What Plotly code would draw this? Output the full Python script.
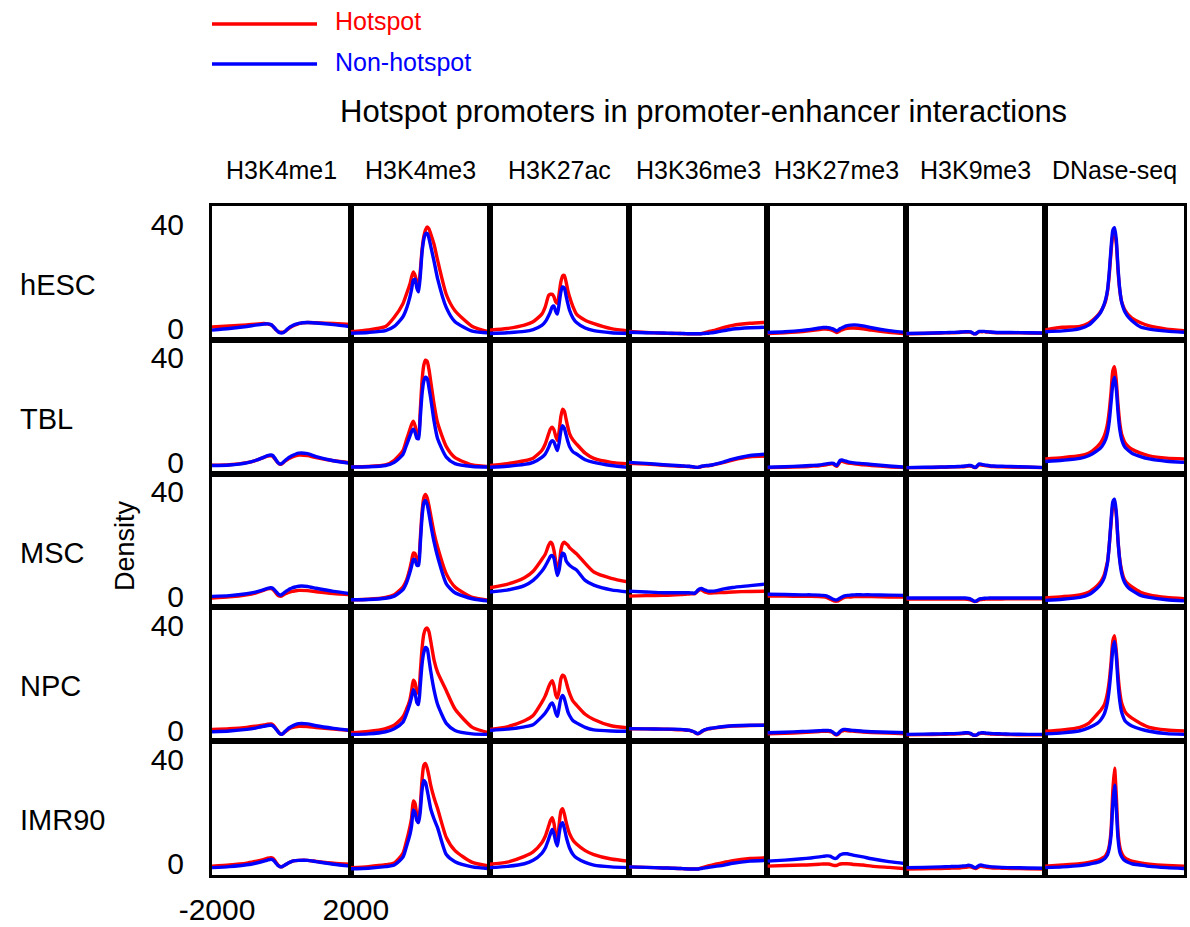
import plotly.graph_objects as go
from plotly.subplots import make_subplots

# ---------------- data ----------------
POSITION_BP = [-2000, -1500, -1000, -750, -500, -400, -300, -250, -200, -150, -100, -50, 0,
               50, 100, 150, 200, 250, 300, 400, 500, 750, 1000, 1500, 2000]

CELL_TYPES = ["hESC", "TBL", "MSC", "NPC", "IMR90"]
MARKS = ["H3K4me1", "H3K4me3", "H3K27ac", "H3K36me3", "H3K27me3", "H3K9me3", "DNase-seq"]
MARK_KEYS = ["K4me1", "K4me3", "K27ac", "K36me3", "K27me3", "K9me3", "DNase"]
SERIES_NAMES = ["Hotspot", "Non-hotspot"]
X_TICKS = [-2000, 2000]
Y_TICKS = [0, 40]
TITLE = "Hotspot promoters in promoter-enhancer interactions"
Y_LABEL = "Density"

# hESC
hESC_K4me1_hot = [2.6, 3.0, 3.4, 3.7, 3.9, 3.8, 3.4, 2.9, 2.2, 1.4, 0.9, 0.6, 0.6, 0.6, 0.9, 1.4, 1.9, 2.4, 2.8, 3.4, 3.9, 4.3, 4.2, 3.9, 3.6]
hESC_K4me1_non = [1.4, 2.0, 2.8, 3.3, 3.7, 3.8, 3.5, 3.0, 2.3, 1.5, 0.9, 0.4, 0.3, 0.4, 0.9, 1.5, 2.1, 2.6, 3.0, 3.6, 4.0, 4.3, 4.1, 3.5, 2.7]
hESC_K4me3_hot = [0.8, 1.5, 2.8, 6.3, 11.5, 15.1, 18.9, 21.7, 23.6, 22.3, 19.8, 18.5, 24.0, 32.0, 37.0, 39.7, 40.8, 40.1, 38.2, 34.0, 28.0, 15.0, 8.8, 2.8, 0.7]
hESC_K4me3_non = [0.2, 0.5, 1.2, 2.8, 6.5, 9.5, 14.0, 17.0, 20.5, 20.8, 17.5, 16.0, 22.0, 31.0, 36.0, 38.2, 38.3, 36.5, 33.5, 27.5, 21.0, 10.0, 4.6, 1.0, 0.3]
hESC_K27ac_hot = [1.4, 2.0, 3.3, 4.6, 7.5, 10.3, 14.7, 15.1, 15.1, 14.1, 12.2, 11.6, 15.4, 19.8, 22.1, 22.3, 19.8, 16.6, 14.1, 10.3, 7.5, 5.2, 3.9, 2.0, 1.1]
hESC_K27ac_non = [0.1, 0.4, 0.9, 1.6, 3.2, 4.6, 7.0, 8.5, 10.3, 10.6, 8.6, 7.5, 11.5, 16.0, 17.9, 17.5, 14.5, 11.5, 9.0, 6.0, 4.3, 2.2, 1.2, 0.4, 0.1]
hESC_K36me3_hot = [0.9, 0.5, 0.2, 0.1, 0.1, 0.0, 0.0, 0.0, 0.0, 0.0, 0.0, 0.0, 0.0, 0.0, 0.1, 0.2, 0.4, 0.6, 0.8, 1.1, 1.4, 2.4, 3.2, 4.0, 4.4]
hESC_K36me3_non = [0.6, 0.4, 0.3, 0.2, 0.1, 0.1, 0.0, 0.0, 0.0, 0.0, 0.0, 0.0, 0.0, 0.0, 0.0, 0.1, 0.1, 0.2, 0.2, 0.4, 0.6, 1.2, 1.8, 2.3, 2.5]
hESC_K27me3_hot = [0.1, 0.4, 0.8, 1.2, 1.6, 1.8, 1.8, 1.7, 1.6, 1.4, 1.2, 0.8, 0.5, 0.8, 1.2, 1.5, 1.8, 2.0, 2.1, 2.2, 2.2, 1.9, 1.4, 0.6, 0.0]
hESC_K27me3_non = [0.5, 0.8, 1.3, 1.7, 2.2, 2.4, 2.4, 2.3, 2.2, 2.0, 1.8, 1.4, 1.1, 1.5, 2.0, 2.3, 2.6, 2.9, 3.1, 3.3, 3.4, 3.0, 2.3, 1.2, 0.5]
hESC_K9me3_hot = [0.0, 0.1, 0.3, 0.4, 0.5, 0.6, 0.7, 0.7, 0.7, 0.6, 0.3, 0.0, 0.0, 0.4, 0.8, 0.8, 0.8, 0.8, 0.7, 0.6, 0.5, 0.4, 0.4, 0.3, 0.2]
hESC_K9me3_non = [0.1, 0.2, 0.4, 0.5, 0.6, 0.7, 0.8, 0.8, 0.8, 0.7, 0.4, 0.0, 0.0, 0.5, 0.9, 0.9, 0.9, 0.9, 0.8, 0.7, 0.6, 0.5, 0.5, 0.4, 0.3]
hESC_DNase_hot = [1.5, 2.5, 2.8, 4.0, 6.8, 8.5, 11.0, 13.0, 16.5, 23.0, 31.5, 37.5, 38.5, 34.5, 24.0, 16.5, 12.5, 10.5, 9.0, 7.2, 6.0, 4.2, 3.0, 1.8, 1.2]
hESC_DNase_non = [0.8, 1.1, 2.0, 3.3, 6.5, 8.2, 11.2, 13.5, 17.0, 24.0, 33.0, 39.5, 40.5, 36.0, 25.0, 17.0, 12.3, 10.0, 8.3, 6.3, 5.0, 2.6, 1.8, 1.0, 0.6]

# TBL
TBL_K4me1_hot = [0.9, 1.1, 1.9, 2.7, 3.9, 4.4, 4.5, 4.3, 3.5, 2.6, 1.8, 1.3, 1.3, 1.8, 2.4, 2.9, 3.3, 3.7, 4.0, 4.5, 4.8, 4.6, 3.8, 2.6, 1.8]
TBL_K4me1_non = [0.8, 1.0, 1.8, 2.7, 4.0, 4.6, 4.8, 4.6, 3.8, 2.8, 1.9, 1.4, 1.5, 2.0, 2.6, 3.2, 3.7, 4.1, 4.5, 5.1, 5.5, 5.3, 4.2, 2.6, 1.6]
TBL_K4me3_hot = [0.3, 0.4, 1.0, 2.8, 6.5, 10.5, 14.5, 16.5, 17.7, 16.0, 13.0, 12.5, 22.0, 33.0, 39.0, 41.0, 40.5, 37.5, 33.0, 24.0, 17.0, 8.0, 3.8, 1.0, 0.3]
TBL_K4me3_non = [0.2, 0.3, 0.8, 2.0, 5.0, 8.5, 12.0, 13.8, 14.7, 13.5, 11.2, 11.0, 19.0, 28.0, 33.0, 34.5, 34.0, 30.5, 26.5, 17.5, 11.0, 4.0, 1.5, 0.4, 0.2]
TBL_K27ac_hot = [0.8, 1.5, 2.6, 3.6, 6.5, 9.0, 13.0, 14.8, 15.4, 14.5, 12.0, 10.3, 14.0, 19.5, 22.3, 21.5, 18.5, 15.5, 13.0, 10.5, 9.0, 5.5, 3.5, 2.0, 1.4]
TBL_K27ac_non = [0.1, 0.5, 1.2, 2.0, 3.9, 5.2, 7.8, 9.5, 10.3, 9.8, 8.0, 6.5, 9.5, 14.0, 16.0, 15.0, 12.5, 10.0, 8.0, 6.0, 5.2, 3.0, 2.0, 0.8, 0.1]
TBL_K36me3_hot = [1.6, 1.3, 0.9, 0.7, 0.5, 0.5, 0.4, 0.4, 0.3, 0.2, 0.1, 0.1, 0.1, 0.2, 0.4, 0.5, 0.6, 0.7, 0.7, 0.9, 1.2, 2.0, 2.9, 4.1, 4.4]
TBL_K36me3_non = [2.0, 1.6, 1.1, 0.9, 0.7, 0.6, 0.5, 0.5, 0.4, 0.3, 0.2, 0.1, 0.1, 0.3, 0.5, 0.6, 0.7, 0.8, 0.8, 1.0, 1.3, 2.2, 3.2, 4.6, 5.2]
TBL_K27me3_hot = [0.0, 0.1, 0.3, 0.5, 0.7, 0.9, 1.1, 1.2, 1.3, 1.4, 1.3, 0.8, 0.5, 1.4, 2.3, 2.4, 2.2, 2.0, 1.8, 1.6, 1.4, 1.1, 0.8, 0.3, 0.0]
TBL_K27me3_non = [0.1, 0.3, 0.6, 0.8, 1.0, 1.2, 1.4, 1.5, 1.6, 1.7, 1.6, 1.1, 0.8, 1.8, 2.8, 2.9, 2.7, 2.5, 2.3, 2.0, 1.8, 1.5, 1.2, 0.6, 0.1]
TBL_K9me3_hot = [0.0, 0.0, 0.1, 0.2, 0.3, 0.3, 0.4, 0.5, 0.6, 0.6, 0.4, 0.1, 0.0, 0.6, 1.1, 1.0, 0.9, 0.8, 0.7, 0.5, 0.4, 0.3, 0.2, 0.1, 0.0]
TBL_K9me3_non = [0.0, 0.1, 0.2, 0.3, 0.4, 0.5, 0.6, 0.7, 0.8, 0.8, 0.6, 0.2, 0.1, 0.8, 1.4, 1.3, 1.1, 1.0, 0.9, 0.7, 0.6, 0.5, 0.4, 0.2, 0.0]
TBL_DNase_hot = [3.3, 3.8, 4.5, 5.5, 8.0, 9.5, 12.0, 14.0, 17.0, 22.0, 29.0, 37.0, 38.5, 33.0, 24.0, 17.0, 13.0, 11.0, 9.5, 8.0, 7.0, 5.5, 4.5, 3.6, 3.3]
TBL_DNase_non = [2.3, 2.8, 3.5, 4.5, 6.5, 7.5, 9.5, 11.0, 13.5, 18.0, 25.0, 32.0, 34.5, 30.0, 21.0, 14.5, 11.0, 9.0, 7.8, 6.5, 5.5, 4.2, 3.3, 2.4, 2.0]

# MSC
MSC_K4me1_hot = [1.3, 1.7, 2.5, 3.2, 4.3, 4.8, 4.9, 4.6, 3.9, 3.0, 2.3, 2.0, 2.0, 2.4, 2.8, 3.1, 3.4, 3.6, 3.8, 4.0, 4.2, 4.1, 3.7, 3.0, 2.5]
MSC_K4me1_non = [1.9, 2.2, 2.9, 3.5, 4.5, 5.0, 5.2, 5.0, 4.4, 3.6, 2.9, 2.5, 2.5, 3.0, 3.5, 4.0, 4.4, 4.8, 5.1, 5.5, 5.8, 5.7, 5.0, 3.8, 2.9]
MSC_K4me3_hot = [0.6, 0.8, 1.5, 2.5, 5.5, 8.0, 12.5, 15.5, 18.5, 18.2, 16.0, 15.6, 24.0, 34.0, 39.5, 40.8, 39.5, 36.5, 33.0, 26.0, 20.7, 10.5, 5.5, 1.5, 0.4]
MSC_K4me3_non = [0.6, 0.7, 1.2, 2.0, 4.5, 7.0, 11.0, 13.5, 16.0, 15.8, 13.8, 13.7, 22.0, 32.0, 37.5, 38.5, 37.0, 33.5, 29.5, 22.5, 17.0, 6.7, 3.3, 1.0, 0.1]
MSC_K27ac_hot = [5.2, 6.5, 9.0, 11.5, 16.0, 18.0, 21.5, 22.6, 22.0, 19.5, 15.5, 12.4, 14.0, 19.5, 22.0, 22.6, 22.0, 21.5, 20.5, 19.3, 18.2, 14.5, 11.2, 8.8, 7.4]
MSC_K27ac_non = [3.6, 4.3, 6.0, 8.0, 11.5, 13.5, 16.0, 17.2, 17.5, 16.5, 13.0, 9.9, 12.0, 16.5, 18.4, 18.0, 15.5, 14.5, 13.8, 12.8, 12.0, 8.0, 6.2, 4.4, 3.6]
MSC_K36me3_hot = [2.0, 2.2, 2.3, 2.4, 2.6, 2.7, 2.8, 2.8, 2.9, 2.9, 2.9, 3.4, 4.0, 4.4, 4.4, 4.0, 3.6, 3.4, 3.2, 3.2, 3.3, 3.4, 3.6, 3.8, 3.9]
MSC_K36me3_non = [3.9, 3.6, 3.3, 3.3, 3.3, 3.3, 3.3, 3.3, 3.2, 3.2, 3.1, 3.6, 4.3, 4.8, 4.9, 4.6, 4.3, 4.1, 3.9, 3.9, 4.0, 4.8, 5.3, 6.0, 6.7]
MSC_K27me3_hot = [2.0, 2.0, 1.9, 1.9, 1.8, 1.7, 1.5, 1.2, 0.9, 0.6, 0.3, 0.1, 0.1, 0.3, 0.7, 1.1, 1.4, 1.6, 1.7, 1.7, 1.8, 1.8, 1.8, 1.7, 1.7]
MSC_K27me3_non = [2.7, 2.6, 2.5, 2.5, 2.4, 2.3, 2.1, 1.8, 1.5, 1.1, 0.8, 0.6, 0.6, 0.9, 1.3, 1.7, 2.0, 2.2, 2.3, 2.4, 2.5, 2.5, 2.5, 2.4, 2.3]
MSC_K9me3_hot = [0.9, 0.9, 0.9, 0.9, 0.9, 0.9, 0.9, 0.8, 0.7, 0.6, 0.3, 0.0, 0.0, 0.2, 0.6, 0.7, 0.8, 0.8, 0.9, 0.9, 0.9, 0.9, 1.0, 1.0, 1.0]
MSC_K9me3_non = [1.3, 1.3, 1.3, 1.3, 1.3, 1.3, 1.3, 1.2, 1.1, 0.9, 0.5, 0.1, 0.0, 0.4, 0.9, 1.0, 1.1, 1.2, 1.2, 1.3, 1.3, 1.3, 1.3, 1.3, 1.3]
MSC_DNase_hot = [1.3, 1.8, 2.5, 3.5, 6.0, 7.5, 10.0, 12.5, 15.5, 22.0, 30.0, 36.5, 37.5, 33.0, 23.0, 16.0, 12.0, 9.5, 8.0, 6.5, 5.5, 3.5, 2.5, 1.5, 1.0]
MSC_DNase_non = [0.4, 0.8, 1.5, 2.5, 5.0, 6.5, 9.0, 11.5, 15.0, 22.0, 31.0, 38.0, 39.0, 34.0, 23.0, 15.5, 11.0, 8.5, 7.0, 5.2, 4.2, 2.3, 1.5, 0.6, 0.2]

# NPC
NPC_K4me1_hot = [2.2, 2.5, 3.0, 3.4, 3.9, 4.2, 4.3, 4.0, 3.3, 2.4, 1.5, 0.7, 0.3, 0.6, 1.2, 1.7, 2.2, 2.6, 2.9, 3.2, 3.4, 3.3, 2.9, 2.3, 1.8]
NPC_K4me1_non = [1.3, 1.6, 2.2, 2.7, 3.4, 3.7, 3.8, 3.6, 3.0, 2.2, 1.3, 0.6, 0.3, 0.7, 1.4, 2.0, 2.6, 3.0, 3.4, 4.0, 4.4, 4.3, 3.6, 2.6, 1.8]
NPC_K4me3_hot = [0.9, 1.4, 2.5, 3.8, 7.0, 9.8, 13.5, 17.0, 21.0, 20.0, 16.5, 16.1, 24.0, 33.0, 38.5, 40.5, 40.9, 39.5, 36.0, 28.5, 24.0, 17.0, 10.0, 3.0, 0.9]
NPC_K4me3_non = [0.3, 0.5, 1.3, 2.5, 5.0, 8.0, 12.0, 14.5, 17.4, 16.0, 12.5, 11.7, 19.0, 27.0, 31.5, 33.5, 33.0, 29.0, 24.5, 17.0, 11.7, 4.5, 1.8, 0.5, 0.3]
NPC_K27ac_hot = [2.2, 3.2, 5.5, 7.5, 12.5, 15.0, 18.5, 20.0, 20.8, 19.0, 15.5, 14.2, 17.0, 21.5, 22.9, 22.5, 20.5, 18.0, 16.0, 13.0, 11.5, 8.0, 6.0, 3.6, 2.8]
NPC_K27ac_non = [1.8, 2.3, 3.2, 4.0, 7.0, 8.5, 10.5, 11.8, 12.3, 11.0, 8.5, 7.2, 10.5, 14.0, 15.2, 14.0, 11.5, 9.0, 7.5, 5.5, 4.7, 3.0, 2.0, 1.6, 1.5]
NPC_K36me3_hot = [2.4, 2.4, 2.3, 2.2, 2.1, 2.0, 1.9, 1.8, 1.6, 1.4, 1.1, 0.7, 0.5, 0.8, 1.3, 1.7, 2.0, 2.2, 2.4, 2.6, 2.8, 3.2, 3.5, 3.7, 3.8]
NPC_K36me3_non = [2.5, 2.4, 2.3, 2.3, 2.2, 2.1, 2.0, 1.9, 1.7, 1.5, 1.2, 0.8, 0.6, 0.9, 1.4, 1.8, 2.1, 2.3, 2.5, 2.7, 2.9, 3.3, 3.6, 3.8, 3.8]
NPC_K27me3_hot = [0.5, 0.7, 1.0, 1.2, 1.4, 1.5, 1.5, 1.5, 1.4, 1.2, 0.8, 0.3, 0.1, 0.5, 1.2, 1.6, 1.8, 1.8, 1.7, 1.6, 1.5, 1.2, 1.0, 0.8, 0.5]
NPC_K27me3_non = [0.9, 1.1, 1.4, 1.5, 1.7, 1.8, 1.8, 1.8, 1.7, 1.4, 1.0, 0.5, 0.3, 0.8, 1.5, 2.0, 2.2, 2.2, 2.1, 1.9, 1.8, 1.5, 1.3, 1.1, 0.9]
NPC_K9me3_hot = [0.1, 0.2, 0.3, 0.4, 0.5, 0.6, 0.7, 0.7, 0.7, 0.5, 0.2, 0.0, 0.0, 0.2, 0.6, 0.7, 0.7, 0.7, 0.6, 0.5, 0.4, 0.3, 0.2, 0.1, 0.1]
NPC_K9me3_non = [0.3, 0.4, 0.5, 0.6, 0.7, 0.8, 0.9, 0.9, 0.9, 0.7, 0.3, 0.0, 0.0, 0.3, 0.8, 0.9, 0.9, 0.9, 0.8, 0.7, 0.6, 0.5, 0.4, 0.3, 0.3]
NPC_DNase_hot = [1.5, 2.0, 3.0, 4.5, 8.0, 9.5, 11.5, 13.5, 16.5, 21.0, 28.0, 36.0, 38.0, 32.0, 23.0, 16.5, 12.5, 10.5, 9.0, 7.5, 6.5, 4.5, 3.0, 2.0, 1.6]
NPC_DNase_non = [0.5, 0.9, 1.7, 2.8, 4.5, 5.8, 8.0, 10.0, 13.0, 18.0, 25.0, 33.0, 35.8, 30.0, 20.0, 13.0, 9.0, 7.0, 5.5, 4.3, 3.5, 2.3, 1.5, 0.6, 0.3]

# IMR90
IMR90_K4me1_hot = [1.1, 1.5, 2.2, 2.9, 3.7, 4.1, 4.3, 4.1, 3.4, 2.4, 1.5, 1.0, 0.8, 1.1, 1.5, 1.9, 2.3, 2.6, 2.9, 3.2, 3.3, 3.3, 2.9, 2.2, 1.8]
IMR90_K4me1_non = [0.5, 0.9, 1.6, 2.2, 3.0, 3.4, 3.7, 3.5, 2.9, 2.1, 1.3, 0.9, 0.8, 1.1, 1.5, 1.9, 2.3, 2.6, 2.9, 3.2, 3.3, 3.3, 2.8, 1.8, 1.1]
IMR90_K4me3_hot = [0.5, 0.9, 1.6, 2.3, 6.0, 10.5, 16.0, 19.5, 26.0, 25.0, 20.5, 18.3, 24.0, 34.0, 39.5, 40.3, 38.5, 35.5, 32.0, 27.0, 23.0, 12.0, 7.0, 2.5, 1.1]
IMR90_K4me3_non = [0.1, 0.3, 0.9, 1.5, 4.5, 8.5, 13.0, 16.5, 22.5, 21.5, 18.5, 17.7, 22.0, 30.0, 33.8, 33.0, 30.0, 26.5, 23.0, 19.0, 15.7, 5.5, 2.8, 0.8, 0.1]
IMR90_K27ac_hot = [1.8, 2.6, 4.8, 6.5, 10.0, 12.5, 16.5, 18.5, 19.6, 17.5, 13.0, 10.7, 17.0, 22.0, 23.0, 21.0, 18.0, 15.5, 13.5, 11.0, 9.5, 7.0, 5.5, 3.8, 3.0]
IMR90_K27ac_non = [0.5, 1.0, 2.0, 3.3, 6.0, 8.0, 11.5, 13.5, 15.1, 13.5, 10.5, 8.8, 13.5, 17.0, 17.7, 15.5, 12.5, 10.0, 8.0, 5.5, 4.2, 2.5, 1.5, 0.8, 0.5]
IMR90_K36me3_hot = [0.8, 0.6, 0.4, 0.3, 0.2, 0.1, 0.1, 0.0, 0.0, 0.0, 0.0, 0.0, 0.0, 0.2, 0.4, 0.6, 0.8, 1.0, 1.2, 1.5, 1.8, 2.5, 3.2, 4.0, 4.3]
IMR90_K36me3_non = [0.8, 0.6, 0.4, 0.3, 0.2, 0.1, 0.0, 0.0, 0.0, 0.0, 0.0, 0.0, 0.0, 0.1, 0.2, 0.3, 0.4, 0.5, 0.6, 0.8, 1.0, 1.5, 2.2, 3.0, 3.3]
IMR90_K27me3_hot = [1.1, 1.3, 1.5, 1.6, 1.8, 1.9, 1.9, 1.9, 1.8, 1.6, 1.4, 1.3, 1.4, 1.7, 1.9, 2.0, 2.0, 2.0, 2.0, 1.9, 1.7, 1.5, 1.1, 0.6, 0.1]
IMR90_K27me3_non = [3.0, 3.4, 3.9, 4.2, 4.6, 4.8, 5.0, 5.0, 4.9, 4.6, 4.2, 4.0, 4.2, 4.9, 5.4, 5.7, 5.8, 5.8, 5.8, 5.5, 5.2, 4.6, 3.9, 2.8, 2.0]
IMR90_K9me3_hot = [0.0, 0.1, 0.2, 0.3, 0.4, 0.5, 0.6, 0.7, 0.8, 0.8, 0.6, 0.3, 0.2, 0.5, 0.9, 1.0, 0.9, 0.8, 0.7, 0.5, 0.4, 0.3, 0.2, 0.1, 0.0]
IMR90_K9me3_non = [0.5, 0.6, 0.8, 0.9, 1.0, 1.1, 1.2, 1.3, 1.4, 1.3, 1.0, 0.6, 0.5, 0.9, 1.4, 1.5, 1.4, 1.2, 1.1, 0.9, 0.8, 0.6, 0.5, 0.4, 0.3]
IMR90_DNase_hot = [1.1, 1.5, 2.0, 2.5, 3.3, 3.8, 4.5, 5.3, 6.5, 9.0, 15.0, 30.0, 38.5, 28.0, 14.0, 8.5, 6.2, 5.0, 4.3, 3.5, 3.0, 2.3, 1.8, 1.3, 1.1]
IMR90_DNase_non = [0.5, 0.8, 1.3, 1.8, 2.5, 3.0, 3.8, 4.5, 5.5, 8.0, 13.0, 25.0, 32.0, 23.0, 11.5, 6.5, 4.8, 3.8, 3.2, 2.5, 2.0, 1.5, 1.0, 0.5, 0.2]

# ---------------- layout constants ----------------
W, H = 1190, 927
PL, PR, PT, PB = 212, 1184, 206, 875   # plot area in pixels
FONT = "Liberation Sans, Arial, Helvetica, sans-serif"
RED = "#ff0000"
BLUE = "#0000ff"


def px_x(px):
    return (px - PL) / (PR - PL)


def px_y(py):
    return (PB - py) / (PB - PT)


nrows, ncols = len(CELL_TYPES), len(MARKS)
fig = make_subplots(rows=nrows, cols=ncols, horizontal_spacing=0, vertical_spacing=0)

for r, cell in enumerate(CELL_TYPES):
    for c, key in enumerate(MARK_KEYS):
        hot = globals()[f"{cell}_{key}_hot"]
        non = globals()[f"{cell}_{key}_non"]
        fig.add_trace(go.Scatter(x=POSITION_BP, y=hot, mode="lines", name=SERIES_NAMES[0],
                                 line=dict(color=RED, width=3.4, shape="spline", smoothing=0.6),
                                 showlegend=False, hoverinfo="skip"), row=r + 1, col=c + 1)
        fig.add_trace(go.Scatter(x=POSITION_BP, y=non, mode="lines", name=SERIES_NAMES[1],
                                 line=dict(color=BLUE, width=3.4, shape="spline", smoothing=0.6),
                                 showlegend=False, hoverinfo="skip"), row=r + 1, col=c + 1)

fig.update_xaxes(range=[-2000, 2000], showgrid=False, zeroline=False, showline=True,
                 linecolor="black", linewidth=3, mirror=True, ticks="", showticklabels=False,
                 automargin=False, fixedrange=True)
fig.update_yaxes(range=[-2.3, 48.8], showgrid=False, zeroline=False, showline=True,
                 linecolor="black", linewidth=3, mirror=True, ticks="", showticklabels=False,
                 automargin=False, fixedrange=True)

fig.update_xaxes(row=nrows, col=1, showticklabels=True, tickmode="array", tickvals=X_TICKS,
                 ticktext=[str(v) for v in X_TICKS], tickfont=dict(family=FONT, size=30, color="black"),
                 ticklabelstandoff=6, ticklabelshift=5)
fig.update_yaxes(col=1, showticklabels=True, tickmode="array", tickvals=Y_TICKS,
                 ticktext=[str(v) for v in Y_TICKS], tickfont=dict(family=FONT, size=30, color="black"),
                 ticklabelstandoff=19, ticklabelshift=-5)

annotations = []
# title
annotations.append(dict(text=TITLE, x=px_x(703), y=px_y(112), xref="paper", yref="paper",
                        showarrow=False, xanchor="center", yanchor="middle",
                        font=dict(family=FONT, size=31, color="black")))
# column headers
col_w = (PR - PL) / ncols
for c, m in enumerate(MARKS):
    annotations.append(dict(text=m, x=px_x(PL + col_w * (c + 0.5)), y=px_y(170), xref="paper", yref="paper",
                            showarrow=False, xanchor="center", yanchor="middle",
                            font=dict(family=FONT, size=25, color="black")))
# row labels
row_h = (PB - PT) / nrows
for r, cell in enumerate(CELL_TYPES):
    annotations.append(dict(text=cell, x=px_x(18), y=px_y(PT + row_h * (r + 0.5) + 12), xref="paper", yref="paper",
                            showarrow=False, xanchor="left", yanchor="middle",
                            font=dict(family=FONT, size=29, color="black")))
# y label
annotations.append(dict(text=Y_LABEL, x=px_x(125), y=px_y(546), xref="paper", yref="paper",
                        showarrow=False, xanchor="center", yanchor="middle", textangle=-90,
                        font=dict(family=FONT, size=27, color="black")))
# legend texts
annotations.append(dict(text=SERIES_NAMES[0], x=px_x(333), y=px_y(21), xref="paper", yref="paper",
                        showarrow=False, xanchor="left", yanchor="middle",
                        font=dict(family=FONT, size=25, color=RED)))
annotations.append(dict(text=SERIES_NAMES[1], x=px_x(333), y=px_y(62), xref="paper", yref="paper",
                        showarrow=False, xanchor="left", yanchor="middle",
                        font=dict(family=FONT, size=25, color=BLUE)))

shapes = [
    dict(type="line", xref="paper", yref="paper", x0=px_x(212), x1=px_x(317), y0=px_y(24), y1=px_y(24),
         line=dict(color=RED, width=3.5)),
    dict(type="line", xref="paper", yref="paper", x0=px_x(212), x1=px_x(317), y0=px_y(64), y1=px_y(64),
         line=dict(color=BLUE, width=3.5)),
]

fig.update_layout(
    width=W, height=H,
    margin=dict(l=PL, r=W - PR, t=PT, b=H - PB, pad=0),
    paper_bgcolor="white", plot_bgcolor="white",
    template="none",
    showlegend=False,
    hovermode=False,
    annotations=annotations,
    shapes=shapes,
    font=dict(family=FONT, color="black"),
)

fig.write_html("out.html")
